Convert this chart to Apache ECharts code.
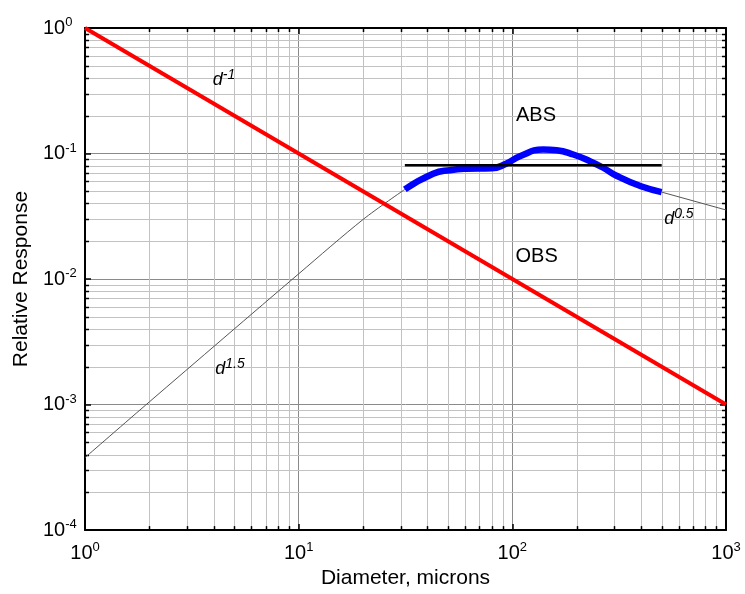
<!DOCTYPE html>
<html><head><meta charset="utf-8">
<script src="https://cdn.jsdelivr.net/npm/echarts@6/dist/echarts.min.js"></script>
<style>html,body{margin:0;padding:0;background:#fff}#c{width:745px;height:594px}</style>
</head><body><div id="c"></div>
<script>
// Axis decades (tick labels are 10^exponent)
const xDecades = [1, 10, 100, 1000];
const yDecades = [1e-4, 1e-3, 1e-2, 1e-1, 1];
// OBS response, d^-1
const obsX = [1, 1000];
const obsY = [1, 0.001];
// ABS response (blue)
const absX = [31.4, 42.6, 51.1, 61.1, 80.0, 94.0, 108.5, 139.5, 161.2, 192.8, 230.7, 266.4, 307.4, 400.0, 499.5];
const absY = [0.0518, 0.0690, 0.0737, 0.0756, 0.0762, 0.0833, 0.0952, 0.1076, 0.1062, 0.0982, 0.0869, 0.0770, 0.0665, 0.0548, 0.0493];
// flat reference (black)
const refX = [31.4, 500];
const refY = [0.0807, 0.0807];
// thin gray asymptotes
const lowX = [1, 2, 10, 20.1, 31.4];
const lowY = [0.000378, 0.00105, 0.011, 0.0300, 0.0518];
const highX = [499.5, 1000];
const highY = [0.0493, 0.0355];
// annotations
const noteX = [4.47, 129, 130, 602, 4.77];
const noteY = [0.386, 0.2, 0.015, 0.030, 0.00193];
const noteBase = ['d', 'ABS', 'OBS', 'd', 'd'];
const noteSup = ['-1', '', '', '0.5', '1.5'];

const xMinor = [], yMinor = [];
xDecades.slice(0, -1).forEach(d => { for (let m = 2; m <= 9; m++) xMinor.push(m * d); });
yDecades.slice(0, -1).forEach(d => { for (let m = 2; m <= 9; m++) yMinor.push(+(m * d).toPrecision(3)); });

const FONT = "'Liberation Sans', Arial, Helvetica, sans-serif";
const pairs = (xs, ys) => xs.map((x, i) => [x, ys[i]]);
const expLabel = v => '{b|10}{s|' + Math.round(Math.log10(v)) + '}';
const labelRich = {
  b: { fontSize: 20, fontFamily: FONT, color: '#000' },
  s: { fontSize: 13, fontFamily: FONT, color: '#000', padding: [0, 0, 11, 0] }
};

const chart = echarts.init(document.getElementById('c'));

function minorX(params, api) {
  const cs = params.coordSys;
  const p = api.coord([api.value(0), api.value(1)]);
  const x = Math.round(p[0]) + 0.5;
  const y0 = cs.y, y1 = cs.y + cs.height;
  return { type: 'group', children: [
    { type: 'line', shape: { x1: x, y1: y0, x2: x, y2: y1 }, style: { stroke: '#c2c2c2', lineWidth: 1 } },
    { type: 'line', shape: { x1: x, y1: y1, x2: x, y2: y1 - 4 }, style: { stroke: '#000', lineWidth: 1.5 } },
    { type: 'line', shape: { x1: x, y1: y0, x2: x, y2: y0 + 4 }, style: { stroke: '#000', lineWidth: 1.5 } }
  ]};
}
function minorY(params, api) {
  const cs = params.coordSys;
  const p = api.coord([api.value(0), api.value(1)]);
  const y = Math.round(p[1]) + 0.5;
  const x0 = cs.x, x1 = cs.x + cs.width;
  return { type: 'group', children: [
    { type: 'line', shape: { x1: x0, y1: y, x2: x1, y2: y }, style: { stroke: '#c2c2c2', lineWidth: 1 } },
    { type: 'line', shape: { x1: x0, y1: y, x2: x0 + 4, y2: y }, style: { stroke: '#000', lineWidth: 1.5 } },
    { type: 'line', shape: { x1: x1, y1: y, x2: x1 - 4, y2: y }, style: { stroke: '#000', lineWidth: 1.5 } }
  ]};
}
function noteRender(params, api) {
  const i = params.dataIndex;
  const p = api.coord([api.value(0), api.value(1)]);
  const txt = noteSup[i] ? '{d|' + noteBase[i] + '}{s|' + noteSup[i] + '}' : '{t|' + noteBase[i] + '}';
  return {
    type: 'text', x: p[0], y: p[1],
    style: {
      text: txt, fill: '#000', align: 'center', verticalAlign: 'middle',
      rich: {
        d: { fontSize: 18, fontStyle: 'italic', fontFamily: FONT, fill: '#000' },
        s: { fontSize: 14, fontStyle: 'italic', fontFamily: FONT, fill: '#000', padding: [0, 0, 10, 0] },
        t: { fontSize: 20, fontFamily: FONT, fill: '#000' }
      }
    }
  };
}

const lineBase = { type: 'line', showSymbol: false, symbol: 'none', silent: true, animation: false, xAxisIndex: 0, yAxisIndex: 0 };

chart.setOption({
  animation: false,
  backgroundColor: '#fff',
  grid: { left: 85, right: 19, top: 28, bottom: 62 },
  xAxis: [{
    type: 'log', logBase: 10, min: xDecades[0], max: xDecades[xDecades.length - 1],
    position: 'bottom',
    name: 'Diameter, microns', nameLocation: 'middle', nameGap: 36,
    nameTextStyle: { fontSize: 21, fontFamily: FONT, color: '#000' },
    axisLine: { lineStyle: { color: '#000', width: 2 } },
    axisTick: { inside: true, length: 6, lineStyle: { color: '#000', width: 1.5 } },
    axisLabel: { margin: 11, formatter: expLabel, rich: labelRich, showMinLabel: true, showMaxLabel: true },
    splitLine: { show: true, lineStyle: { color: '#8a8a8a', width: 1 } }
  }, {
    type: 'log', logBase: 10, min: xDecades[0], max: xDecades[xDecades.length - 1],
    position: 'top',
    axisLine: { lineStyle: { color: '#000', width: 2 } },
    axisTick: { inside: true, length: 6, lineStyle: { color: '#000', width: 1.5 } },
    axisLabel: { show: false }, splitLine: { show: false }
  }],
  yAxis: [{
    type: 'log', logBase: 10, min: yDecades[0], max: yDecades[yDecades.length - 1],
    position: 'left',
    name: 'Relative Response', nameLocation: 'middle', nameGap: 52, nameRotate: 90,
    nameTextStyle: { fontSize: 21, fontFamily: FONT, color: '#000' },
    axisLine: { lineStyle: { color: '#000', width: 2 } },
    axisTick: { inside: true, length: 6, lineStyle: { color: '#000', width: 1.5 } },
    axisLabel: { margin: 42, align: 'left', formatter: expLabel, rich: labelRich, showMinLabel: true, showMaxLabel: true },
    splitLine: { show: true, lineStyle: { color: '#8a8a8a', width: 1 } }
  }, {
    type: 'log', logBase: 10, min: yDecades[0], max: yDecades[yDecades.length - 1],
    position: 'right',
    axisLine: { lineStyle: { color: '#000', width: 2 } },
    axisTick: { inside: true, length: 6, lineStyle: { color: '#000', width: 1.5 } },
    axisLabel: { show: false }, splitLine: { show: false }
  }],
  series: [
    { type: 'custom', renderItem: minorX, data: xMinor.map(v => [v, yDecades[0]]), silent: true, z: 0, clip: false },
    { type: 'custom', renderItem: minorY, data: yMinor.map(v => [xDecades[0], v]), silent: true, z: 0, clip: false },
    Object.assign({}, lineBase, { name: 'low', data: pairs(lowX, lowY), smooth: 0.3, lineStyle: { color: '#555', width: 1 }, z: 2 }),
    Object.assign({}, lineBase, { name: 'high', data: pairs(highX, highY), lineStyle: { color: '#555', width: 1 }, z: 2 }),
    Object.assign({}, lineBase, { name: 'OBS', data: pairs(obsX, obsY), lineStyle: { color: '#ff0000', width: 4 }, z: 3 }),
    Object.assign({}, lineBase, { name: 'ABS', data: pairs(absX, absY), smooth: 0.5, lineStyle: { color: '#0000ff', width: 6.5, cap: 'butt' }, z: 4 }),
    Object.assign({}, lineBase, { name: 'ref', data: pairs(refX, refY), lineStyle: { color: '#000', width: 2.5 }, z: 5 }),
    { type: 'custom', renderItem: noteRender, data: pairs(noteX, noteY), silent: true, z: 6, clip: false }
  ]
});
</script></body></html>
